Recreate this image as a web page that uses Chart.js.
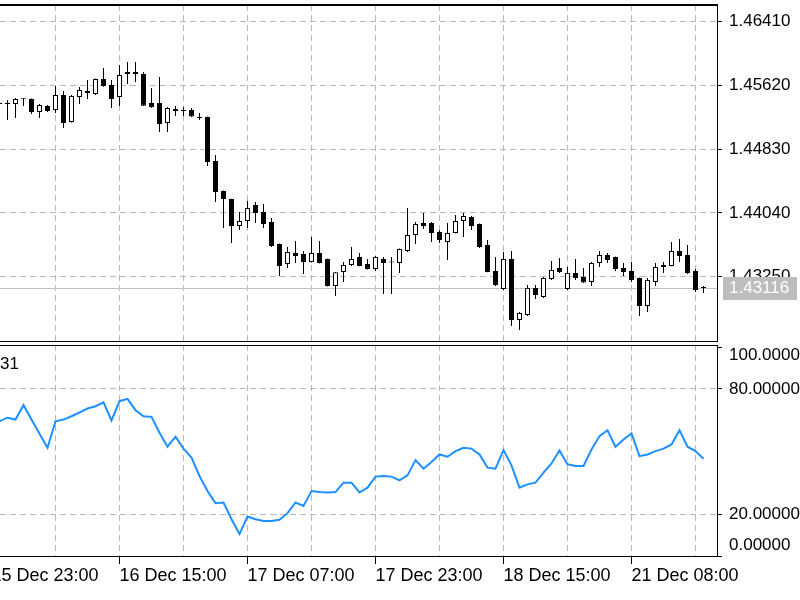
<!DOCTYPE html>
<html>
<head>
<meta charset="utf-8">
<script src="https://cdn.jsdelivr.net/npm/chart.js@4.4.0/dist/chart.umd.min.js"></script>
<style>
  html, body { margin: 0; padding: 0; background: #fff; overflow: hidden; }
  #priceChart { position: absolute; left: 0; top: 0; }
  #oscChart { position: absolute; left: 0; top: 342px; }
</style>
</head>
<body>
<canvas id="priceChart" width="800" height="342"></canvas>
<canvas id="oscChart" width="800" height="258"></canvas>
<script>
// H1 candles, one entry per bar
const opens = [
  1.45403, 1.45403, 1.45390, 1.45452, 1.45452, 1.45291, 1.45366, 1.45316, 1.45502, 1.45167,
  1.45477, 1.45552, 1.45514, 1.45700, 1.45626, 1.45477, 1.45787, 1.45787, 1.45762, 1.45403,
  1.45403, 1.45155, 1.45329, 1.45316, 1.45316, 1.45229, 1.45229, 1.44684, 1.44313, 1.44213,
  1.43879, 1.43941, 1.44139, 1.44052, 1.43928, 1.43657, 1.43409, 1.43545, 1.43533, 1.43434,
  1.43545, 1.43471, 1.43136, 1.43310, 1.43397, 1.43496, 1.43409, 1.43347, 1.43471, 1.43440,
  1.43421, 1.43570, 1.43767, 1.43916, 1.43916, 1.43805, 1.43681, 1.43792, 1.43941, 1.43990,
  1.43904, 1.43644, 1.43322, 1.43099, 1.43471, 1.42715, 1.42777, 1.43112, 1.43000, 1.43223,
  1.43360, 1.43099, 1.43298, 1.43248, 1.43186, 1.43421, 1.43520, 1.43496, 1.43360, 1.43322,
  1.43236, 1.42889, 1.43186, 1.43397, 1.43384, 1.43570, 1.43520, 1.43322, 1.43110
];
const highs = [
  1.45428, 1.45440, 1.45465, 1.45465, 1.45460, 1.45390, 1.45378, 1.45613, 1.45552, 1.45502,
  1.45601, 1.45688, 1.45705, 1.45837, 1.45688, 1.45874, 1.45911, 1.45911, 1.45787, 1.45589,
  1.45725, 1.45353, 1.45366, 1.45353, 1.45341, 1.45279, 1.45235, 1.44759, 1.44318, 1.44218,
  1.44052, 1.44189, 1.44176, 1.44151, 1.43978, 1.43662, 1.43620, 1.43694, 1.43570, 1.43743,
  1.43694, 1.43476, 1.43310, 1.43434, 1.43620, 1.43545, 1.43471, 1.43508, 1.43496, 1.43496,
  1.43600, 1.44102, 1.43928, 1.44040, 1.43928, 1.43829, 1.43916, 1.44015, 1.44040, 1.44003,
  1.43910, 1.43706, 1.43496, 1.43558, 1.43570, 1.42814, 1.43149, 1.43149, 1.43248, 1.43446,
  1.43483, 1.43372, 1.43471, 1.43360, 1.43434, 1.43570, 1.43545, 1.43500, 1.43421, 1.43434,
  1.43240, 1.43236, 1.43421, 1.43434, 1.43681, 1.43718, 1.43644, 1.43347, 1.43136
];
const lows = [
  1.45353, 1.45192, 1.45217, 1.45366, 1.45267, 1.45217, 1.45291, 1.45279, 1.45093, 1.45160,
  1.45390, 1.45452, 1.45502, 1.45605, 1.45341, 1.45366, 1.45638, 1.45663, 1.45366, 1.45341,
  1.45044, 1.45044, 1.45242, 1.45242, 1.45229, 1.45192, 1.44622, 1.44176, 1.43854, 1.43669,
  1.43829, 1.43854, 1.43916, 1.43854, 1.43620, 1.43260, 1.43360, 1.43421, 1.43285, 1.43428,
  1.43415, 1.43130, 1.43013, 1.43186, 1.43384, 1.43380, 1.43341, 1.43322, 1.43037, 1.43037,
  1.43298, 1.43558, 1.43657, 1.43842, 1.43681, 1.43669, 1.43459, 1.43788, 1.43743, 1.43829,
  1.43607, 1.43305, 1.43136, 1.43087, 1.42641, 1.42591, 1.42765, 1.42975, 1.42988, 1.43211,
  1.43298, 1.43087, 1.43211, 1.43174, 1.43136, 1.43372, 1.43421, 1.43322, 1.43260, 1.43186,
  1.42765, 1.42814, 1.43136, 1.43298, 1.43380, 1.43434, 1.43285, 1.43062, 1.43050
];
const closes = [
  1.45390, 1.45390, 1.45452, 1.45448, 1.45291, 1.45378, 1.45304, 1.45502, 1.45155, 1.45490,
  1.45564, 1.45527, 1.45700, 1.45613, 1.45452, 1.45750, 1.45762, 1.45762, 1.45370, 1.45353,
  1.45143, 1.45341, 1.45304, 1.45304, 1.45235, 1.45217, 1.44672, 1.44300, 1.44213, 1.43879,
  1.43941, 1.44102, 1.44040, 1.43904, 1.43632, 1.43384, 1.43558, 1.43508, 1.43434, 1.43545,
  1.43421, 1.43136, 1.43305, 1.43397, 1.43471, 1.43384, 1.43347, 1.43496, 1.43421, 1.43428,
  1.43595, 1.43767, 1.43904, 1.43879, 1.43792, 1.43706, 1.43792, 1.43941, 1.44003, 1.43879,
  1.43620, 1.43310, 1.43149, 1.43471, 1.42715, 1.42802, 1.43112, 1.43025, 1.43236, 1.43335,
  1.43310, 1.43298, 1.43236, 1.43180, 1.43421, 1.43520, 1.43459, 1.43347, 1.43310, 1.43211,
  1.42889, 1.43211, 1.43372, 1.43372, 1.43570, 1.43508, 1.43298, 1.43087, 1.43116
];

// oscillator line (0..100), same bars
const oscValues = [
  64.5, 66.2, 65.3, 72.2, 65.3, 58.5, 51.8, 64.5, 65.3, 66.9,
  68.7, 70.6, 71.7, 73.6, 64.9, 74.1, 75.2, 69.8, 66.9, 66.6,
  59.0, 52.3, 57.1, 51.4, 47.1, 38.3, 31.1, 25.3, 25.6, 17.6,
  10.5, 18.9, 17.6, 16.8, 16.8, 17.3, 20.5, 25.6, 24.0, 31.1,
  30.6, 30.4, 30.6, 35.1, 35.1, 30.4, 32.7, 38.0, 38.3, 38.0,
  36.2, 38.6, 45.9, 41.8, 45.0, 48.6, 47.5, 50.2, 51.8, 51.4,
  48.6, 42.3, 41.8, 50.7, 43.4, 32.7, 34.3, 35.1, 39.9, 44.3,
  50.5, 43.9, 43.1, 43.1, 51.0, 57.4, 60.2, 52.3, 55.8, 58.7,
  47.8, 48.6, 50.2, 51.4, 53.4, 60.2, 52.3, 50.2, 46.6
];

const priceTicks = [1.46410, 1.45620, 1.44830, 1.44040, 1.43250];
const oscTicks = [100, 80, 20, 0];
const oscTickLabels = ['100.00000', '80.00000', '20.00000', '0.00000'];
const timeLabelBars = [-1, 15, 31, 47, 63, 79];
const timeLabels = ['15 Dec 23:00', '16 Dec 15:00', '17 Dec 07:00', '17 Dec 23:00', '18 Dec 15:00', '21 Dec 08:00'];
const oscName = '31';

const FONT = 'Liberation Sans, Arial, sans-serif';
const GRID = '#b8b8b8';
const DASH = [6, 4];
const AXIS_W = 83;

// vertical grid every 8 bars
const gridBars = [];
for (let i = -1; i < opens.length; i += 8) gridBars.push(i);

function timeAxis(showLabels) {
    return {
        type: 'linear',
        min: 0.0625,
        max: 89.6875,
        offset: false,
        afterBuildTicks: s => { s.ticks = gridBars.map(v => ({ value: v })); },
        afterFit: s => {
            s.height = showLabels ? 44 : 0;
            s.paddingLeft = 0; s.paddingRight = 0;
        },
        grid: {
            offset: false,
            color: GRID,
            drawTicks: showLabels,
            tickLength: 8,
            tickColor: c => timeLabelBars.includes(c.tick.value) ? '#000' : 'rgba(0,0,0,0)'
        },
        border: { display: true, color: '#000', dash: DASH },
        ticks: {
            display: showLabels,
            autoSkip: false,
            maxRotation: 0,
            align: 'start',
            padding: 1,
            color: '#000',
            font: { family: FONT, size: 18 },
            callback: v => {
                const k = timeLabelBars.indexOf(v);
                return k >= 0 ? timeLabels[k] : '';
            }
        }
    };
}

// price panel: bid line, frame top, bid box
const pricePanel = {
    id: 'pricePanel',
    beforeDatasetsDraw(chart) {
        const { ctx, chartArea, scales } = chart;
        const y = Math.round(scales.y.getPixelForValue(closes[closes.length - 1])) + 0.5;
        ctx.save();
        ctx.strokeStyle = '#c0c0c0';
        ctx.lineWidth = 1;
        ctx.beginPath();
        ctx.moveTo(chartArea.left, y);
        ctx.lineTo(chartArea.right, y);
        ctx.stroke();
        ctx.restore();
    },
    afterDraw(chart) {
        const { ctx, chartArea, scales } = chart;
        const last = closes[closes.length - 1];
        const y = scales.y.getPixelForValue(last);
        ctx.save();
        ctx.fillStyle = '#000';
        ctx.fillRect(0, chartArea.top - 1, chartArea.right + 1, 2);
        ctx.fillStyle = '#bdbdbd';
        ctx.fillRect(chartArea.right + 6, Math.round(y) - 11, 74, 23);
        ctx.fillStyle = '#fff';
        ctx.font = '17px ' + FONT;
        ctx.textBaseline = 'middle';
        ctx.fillText(last.toFixed(5), chartArea.right + 12, y + 1);
        ctx.restore();
    }
};

// oscillator panel: frame top, name, level labels kept inside the panel
const oscPanel = {
    id: 'oscPanel',
    afterDraw(chart) {
        const { ctx, chartArea, scales } = chart;
        ctx.save();
        ctx.fillStyle = '#000';
        ctx.fillRect(0, chartArea.top, chartArea.right + 1, 1);
        ctx.font = '17px ' + FONT;
        ctx.textBaseline = 'middle';
        ctx.fillText(oscName, 0, chartArea.top + 19);
        oscTicks.forEach((v, i) => {
            let y = scales.y.getPixelForValue(v);
            y = Math.min(Math.max(y, chartArea.top + 10), chartArea.bottom - 11);
            ctx.fillText(oscTickLabels[i], chartArea.right + 12, y);
        });
        ctx.restore();
    }
};

function initCharts() {
    const bodyColors = opens.map((o, i) => closes[i] >= o ? '#ffffff' : '#000000');

    new Chart(document.getElementById('priceChart'), {
        type: 'bar',
        data: {
            datasets: [{
                // candle bodies (drawn on top)
                data: opens.map((o, i) => ({ x: i, y: [o, closes[i]] })),
                backgroundColor: bodyColors,
                borderColor: '#000',
                borderWidth: 1,
                borderSkipped: false,
                barThickness: 5,
                minBarLength: 1,
                inflateAmount: 0,
                grouped: false
            }, {
                // wicks
                data: lows.map((l, i) => ({ x: i, y: [l, highs[i]] })),
                backgroundColor: '#000',
                borderWidth: 0,
                barThickness: 1,
                minBarLength: 1,
                inflateAmount: 0,
                grouped: false
            }]
        },
        options: {
            responsive: false,
            animation: false,
            devicePixelRatio: 1,
            layout: { padding: { top: 5, bottom: 1, left: 0, right: 0 } },
            plugins: { legend: { display: false }, tooltip: { enabled: false } },
            scales: {
                x: timeAxis(false),
                y: {
                    position: 'right',
                    min: 1.42454,
                    max: 1.46617,
                    beginAtZero: false,
                    afterBuildTicks: s => { s.ticks = priceTicks.map(v => ({ value: v })); },
                    afterFit: s => { s.width = AXIS_W; s.paddingTop = 0; s.paddingBottom = 0; },
                    grid: { color: GRID, tickLength: 5, tickColor: '#000' },
                    border: { color: '#000', dash: DASH },
                    ticks: {
                        padding: 7,
                        color: '#000',
                        font: { family: FONT, size: 17 },
                        callback: v => v.toFixed(5)
                    }
                }
            }
        },
        plugins: [pricePanel]
    });

    new Chart(document.getElementById('oscChart'), {
        type: 'line',
        data: {
            datasets: [{
                data: oscValues.map((v, i) => ({ x: i, y: v })),
                borderColor: '#1e90ff',
                borderWidth: 2,
                pointRadius: 0,
                tension: 0,
                fill: false
            }]
        },
        options: {
            responsive: false,
            animation: false,
            devicePixelRatio: 1,
            layout: { padding: { top: 3, bottom: 0, left: 0, right: 0 } },
            plugins: { legend: { display: false }, tooltip: { enabled: false } },
            scales: {
                x: timeAxis(true),
                y: {
                    position: 'right',
                    min: 0,
                    max: 101,
                    afterBuildTicks: s => { s.ticks = oscTicks.map(v => ({ value: v })); },
                    afterFit: s => { s.width = AXIS_W; s.paddingTop = 0; s.paddingBottom = 0; },
                    grid: {
                        color: c => (c.tick && (c.tick.value === 80 || c.tick.value === 20)) ? GRID : 'rgba(0,0,0,0)',
                        tickLength: 5,
                        tickColor: '#000'
                    },
                    border: { color: '#000', dash: DASH },
                    ticks: { display: false }
                }
            }
        },
        plugins: [oscPanel]
    });
}

document.addEventListener('DOMContentLoaded', initCharts);
</script>
</body>
</html>
